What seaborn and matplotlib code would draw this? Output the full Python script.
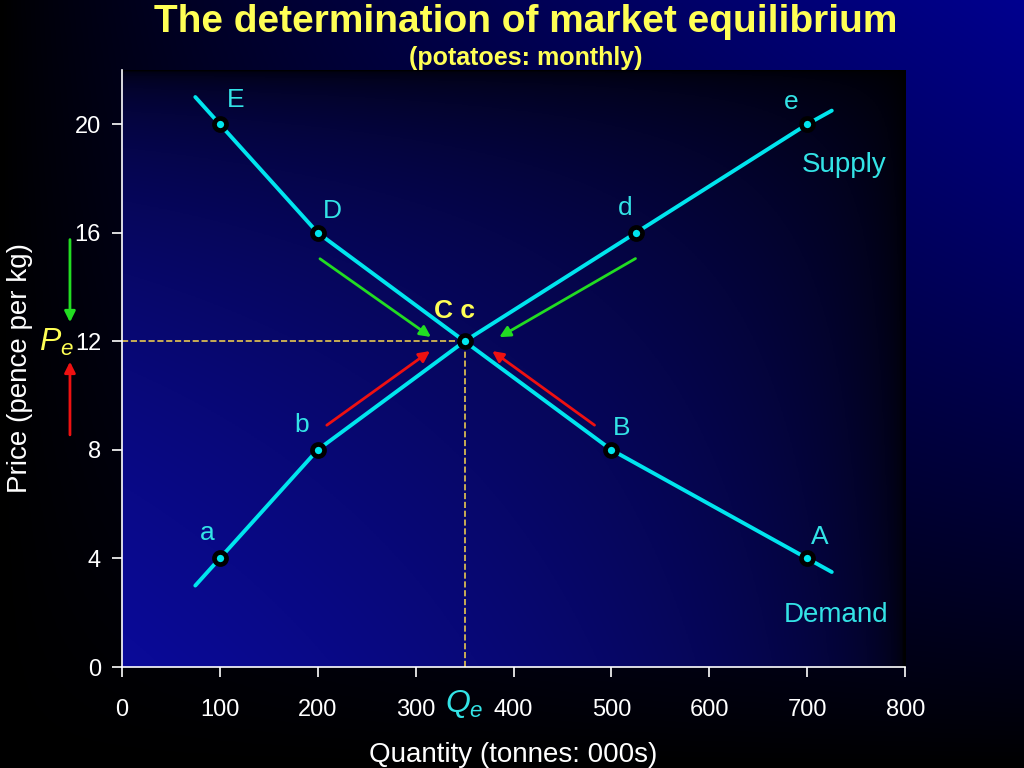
import numpy as np
import pandas as pd
import seaborn as sns
import matplotlib.pyplot as plt

# ---- data ----
demand_q = [75, 100, 200, 350, 500, 700, 725]
demand_p = [21.0, 20, 16, 12, 8, 4, 3.5]
supply_q = [75, 100, 200, 350, 525, 700, 725]
supply_p = [3.0, 4, 8, 12, 16, 20, 20.5]

point_q = [100, 200, 350, 500, 700, 100, 200, 525, 700]
point_p = [20, 16, 12, 8, 4, 4, 8, 16, 20]
point_names = ["E", "D", "C c", "B", "A", "a", "b", "d", "e"]
label_q = [116, 215, 340, 510, 713, 87, 184, 514, 684]
label_p = [20.9, 16.8, 13.1, 8.8, 4.8, 4.95, 8.9, 16.9, 20.8]

q_e, p_e = 350, 12
x_ticks = [0, 100, 200, 300, 400, 500, 600, 700, 800]
y_ticks = [0, 4, 8, 12, 16, 20]

demand = pd.DataFrame({"q": demand_q, "p": demand_p})
supply = pd.DataFrame({"q": supply_q, "p": supply_p})
points = pd.DataFrame({"q": point_q, "p": point_p})

sns.set_style("ticks")
plt.rcParams["font.family"] = ["Liberation Sans", "DejaVu Sans"]
plt.rcParams["mathtext.fontset"] = "custom"
plt.rcParams["mathtext.it"] = "Liberation Sans:italic"
plt.rcParams["mathtext.rm"] = "Liberation Sans"

CYAN = "#00e5ee"
LABEL = "#33e3e6"
YELLOW = "#ffff55"

fig = plt.figure(figsize=(10.24, 7.68), dpi=100)

# figure background: blue top-right fading to black
bg = fig.add_axes([0, 0, 1, 1], zorder=-10)
gx, gy = np.meshgrid(np.linspace(0, 1, 256), np.linspace(1, 0, 256))
inten = np.clip(gx, 0, 1) ** 0.8 * gy ** 0.9
img = np.zeros((256, 256, 3))
img[..., 2] = 0.56 * inten
bg.imshow(img, aspect="auto", extent=(0, 1, 0, 1))
bg.axis("off")

ax = fig.add_axes([0.119, 0.1315, 0.765, 0.7775])
ax.patch.set_alpha(0)

# plot area background: blue bottom-left fading to black top-right
px, py = np.meshgrid(np.linspace(0, 1, 256), np.linspace(1, 0, 256))
pint = (1 - px) ** 0.4 * (1 - py) ** 0.35
pimg = np.zeros((256, 256, 3))
pimg[..., 0] = 0.04 * pint
pimg[..., 1] = 0.04 * pint
pimg[..., 2] = 0.6 * pint
ax.imshow(pimg, aspect="auto", extent=(0, 800, 0, 22), zorder=0)

# equilibrium guide lines
ax.plot([0, q_e], [p_e, p_e], ls="--", color="#e8c850", lw=1.2, zorder=2)
ax.plot([q_e, q_e], [0, p_e], ls="--", color="#e8c850", lw=1.2, zorder=2)

sns.lineplot(data=demand, x="q", y="p", color=CYAN, lw=2.8, ax=ax, zorder=3)
sns.lineplot(data=supply, x="q", y="p", color=CYAN, lw=2.8, ax=ax, zorder=3)
sns.scatterplot(data=points, x="q", y="p", color=CYAN, s=75, edgecolor="black",
                linewidth=3.4, ax=ax, zorder=4)

for name, lq, lp in zip(point_names, label_q, label_p):
    if name == "C c":
        ax.text(lq, lp, name, color=YELLOW, fontsize=19, fontweight="bold",
                ha="center", va="center", zorder=5)
    else:
        ax.text(lq, lp, name, color=LABEL, fontsize=19, ha="center",
                va="center", zorder=5)

ax.text(738, 18.5, "Supply", color=LABEL, fontsize=20, ha="center", va="center")
ax.text(729, 1.9, "Demand", color=LABEL, fontsize=20, ha="center", va="center")

# arrows pointing towards equilibrium
green = dict(arrowstyle="-|>", color="#22dd22", lw=2, mutation_scale=16)
red = dict(arrowstyle="-|>", color="#ee1111", lw=2, mutation_scale=16)
ax.annotate("", xy=(318, 12.1), xytext=(200, 15.1), arrowprops=green)
ax.annotate("", xy=(383, 12.1), xytext=(527, 15.1), arrowprops=green)
ax.annotate("", xy=(317, 11.7), xytext=(207, 8.85), arrowprops=red)
ax.annotate("", xy=(376, 11.7), xytext=(485, 8.85), arrowprops=red)
ax.annotate("", xy=(-53, 12.6), xytext=(-53, 15.85), arrowprops=green,
            annotation_clip=False)
ax.annotate("", xy=(-53, 11.35), xytext=(-53, 8.45), arrowprops=red,
            annotation_clip=False)

ax.text(-67, 11.95, r"$P_e$", color=YELLOW, fontsize=23, ha="center",
        va="center", clip_on=False)
ax.text(350, -1.35, r"$Q_e$", color=LABEL, fontsize=23, ha="center",
        va="center", clip_on=False)

ax.set_xlim(0, 800)
ax.set_ylim(0, 22)
ax.set_xticks(x_ticks)
ax.set_yticks(y_ticks)
ax.tick_params(colors="white", labelsize=17, length=7, width=1.2, pad=8)
ax.tick_params(axis="x", pad=16)
for side in ["top", "right"]:
    ax.spines[side].set_visible(False)
for side in ["left", "bottom"]:
    ax.spines[side].set_color("white")
    ax.spines[side].set_linewidth(1.2)
ax.set_xlabel("Quantity (tonnes: 000s)", color="white", fontsize=20, labelpad=15)
ax.set_ylabel("Price (pence per kg)", color="white", fontsize=20, labelpad=30)

fig.text(0.513, 0.972, "The determination of market equilibrium", color=YELLOW,
         fontsize=28, fontweight="bold", ha="center", va="center")
fig.text(0.513, 0.925, "(potatoes: monthly)", color=YELLOW, fontsize=18,
         fontweight="bold", ha="center", va="center")

fig.savefig("out.png", dpi=100)
